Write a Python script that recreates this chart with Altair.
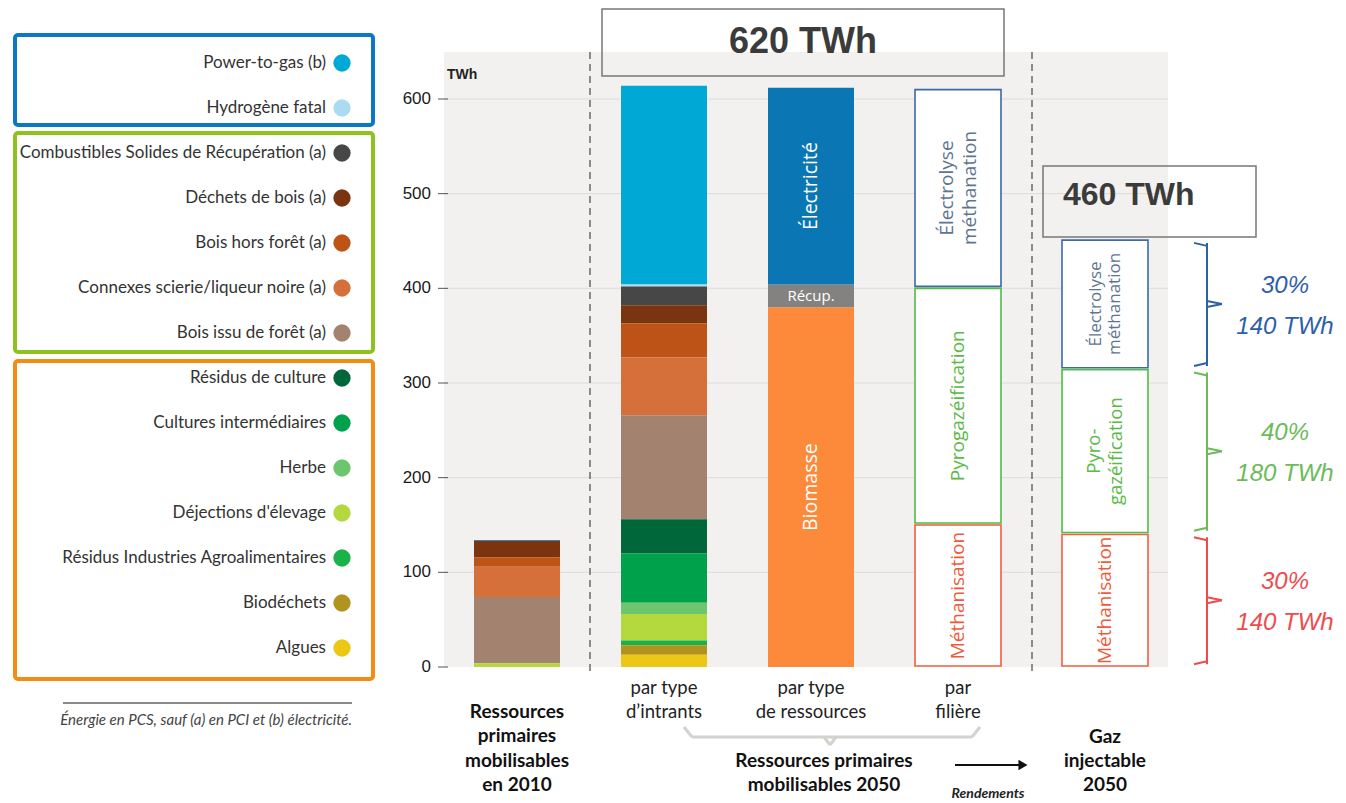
import altair as alt
import pandas as pd

# ---------------- data ----------------
legend_cats = [
    "Power-to-gas (b)", "Hydrogène fatal", "Combustibles Solides de Récupération (a)",
    "Déchets de bois (a)", "Bois hors forêt (a)", "Connexes scierie/liqueur noire (a)",
    "Bois issu de forêt (a)", "Résidus de culture", "Cultures intermédiaires", "Herbe",
    "Déjections d'élevage", "Résidus Industries Agroalimentaires", "Biodéchets", "Algues",
]
legend_colors = [
    "#00a8d6", "#a9dcf2", "#474747", "#7b3410", "#bd5316", "#d5703a", "#a3836f",
    "#00673a", "#00a14b", "#6dc56e", "#b4d93e", "#19b34a", "#b3931f", "#ecc714",
]
values_2010 = [0, 0, 2, 16, 10, 32, 70, 0, 0, 0, 4, 0, 0, 0]
values_2050 = [210, 2, 20, 19, 36, 61, 110, 36, 52, 12, 28, 5, 10, 13]

column_ids = ["2010", "intrants", "ressources", "filiere", "gaz"]

res_names = ["Biomasse", "Récup.", "Électricité"]
res_values = [380, 24, 208]
res_colors = ["#fd8a3b", "#838281", "#0a77b4"]

fil_values = [151, 250, 210]
gaz_values = [141, 174, 137]
fil_strokes = ["#f0603f", "#4fbf42", "#3b6aa5"]
fil_text_colors = ["#ee5b3c", "#5cb948", "#5d7592"]
fil_labels = ["Méthanisation", "Pyrogazéification", "Électrolyse\nméthanation"]
gaz_labels = ["Méthanisation", "Pyro-\ngazéification", "Électrolyse\nméthanation"]
gaz_shares = ["30%\n140 TWh", "40%\n180 TWh", "30%\n140 TWh"]
share_colors = ["#f04b4b", "#6cbb58", "#2e60aa"]

y_ticks = [0, 100, 200, 300, 400, 500, 600]

bottom_small_cols = ["intrants", "ressources", "filiere"]
bottom_small_labels = ["par type\nd\u2019intrants", "par type\nde ressources", "par\nfilière"]

# ---------------- frames ----------------
n = len(legend_cats)
rows = []
for col, vals in (("2010", values_2010), ("intrants", values_2050)):
    for i, (c, v) in enumerate(zip(legend_cats, vals)):
        if v > 0:
            rows.append({"col": col, "cat": c, "value": v, "order": n - i})
df_int = pd.DataFrame(rows)


def stacked(vals):
    out, base = [], 0
    for v in vals:
        out.append((base, base + v, base + v / 2))
        base += v
    return out


res_rows = []
for name, (lo, hi, mid), hx in zip(res_names, stacked(res_values), res_colors):
    res_rows.append({"col": "ressources", "name": name, "lo": lo, "hi": hi, "mid": mid,
                     "hex": hx, "tcolor": "white"})
df_res = pd.DataFrame(res_rows)

fil_rows = []
for col, vals, labs, fs, lhs in (("filiere", fil_values, fil_labels, [19, 19, 19], [0, 0, 23]),
                                 ("gaz", gaz_values, gaz_labels, [19, 18.5, 17], [0, 22, 19])):
    for (lo, hi, mid), lab, sc, tc, f, lh in zip(stacked(vals), labs, fil_strokes, fil_text_colors, fs, lhs):
        fil_rows.append({"col": col, "lo": lo, "hi": hi, "mid": mid, "hex": sc,
                         "label": lab, "tcolor": tc, "fs": f, "lh": lh})
df_fil = pd.DataFrame(fil_rows)

br_rows = []
for (lo, hi, mid), sh, c in zip(stacked(gaz_values), gaz_shares, share_colors):
    br_rows.append({"blo": lo + 3, "bhi": hi - 4, "mid": mid, "share": sh, "bc": c})
df_br = pd.DataFrame(br_rows)

df_ticks = pd.DataFrame({"t": y_ticks})
df_legend = pd.DataFrame({"cat": legend_cats, "row": list(range(n))})
one = pd.DataFrame({"k": [0]})

# ---------------- helpers ----------------
W_L, W_M, H = 372, 958, 786


def mx(px):
    return px - 380


def my(py):
    return py - 8


def lx(px):
    return px - 8


def box(x1, x2, y1, y2, **kw):
    return alt.Chart(one).mark_rect(**kw).encode(
        x=alt.value(x1), x2=alt.value(x2), y=alt.value(y1), y2=alt.value(y2))


def seg(x1, x2, y1, y2, **kw):
    return alt.Chart(one).mark_rule(**kw).encode(
        x=alt.value(x1), x2=alt.value(x2), y=alt.value(y1), y2=alt.value(y2))


def label(s, x, y, **kw):
    return alt.Chart(one).mark_text(text=s, lineBreak="\n", **kw).encode(
        x=alt.value(x), y=alt.value(y))


# ---------------- legend panel ----------------
row_scale = alt.Scale(domain=[0, 13], range=[lx(63), lx(648)], nice=False, zero=False)
color_scale = alt.Scale(domain=legend_cats, range=legend_colors)

leg_layers = [
    box(lx(15), lx(373), lx(35), lx(125), fillOpacity=0, stroke="#0a78c2", strokeWidth=4, cornerRadius=3),
    box(lx(15), lx(373), lx(133), lx(352), fillOpacity=0, stroke="#8dc21f", strokeWidth=4, cornerRadius=3),
    box(lx(15), lx(373), lx(361), lx(679), fillOpacity=0, stroke="#f28c12", strokeWidth=4, cornerRadius=3),
    alt.Chart(df_legend).mark_circle(size=300, opacity=1).encode(
        x=alt.value(lx(342)),
        y=alt.Y("row:Q", scale=row_scale, axis=None),
        color=alt.Color("cat:N", scale=color_scale, legend=None)),
    alt.Chart(df_legend).mark_text(align="right", baseline="middle", font="Lato", fontSize=17,
                                   color="#333").encode(
        x=alt.value(lx(326)),
        y=alt.Y("row:Q", scale=row_scale, axis=None),
        text="cat:N"),
    seg(lx(63), lx(352), lx(703), lx(703), color="#8a8a8a", strokeWidth=2),
    label("Énergie en PCS, sauf (a) en PCI et (b) électricité.", lx(352), lx(720),
          align="right", baseline="middle", font="Lato", fontSize=15, fontStyle="italic",
          color="#444"),
]
legend_chart = alt.layer(*leg_layers).properties(width=W_L, height=H)

# ---------------- main panel ----------------
yscale = alt.Scale(domain=[0, 600], range=[my(667), my(99)], nice=False, zero=False)
xscale = alt.Scale(domain=column_ids, range=[mx(474), mx(1148)], paddingInner=0.415, paddingOuter=0)
X = alt.X("col:N", scale=xscale, axis=None)


def Y(field):
    return alt.Y(field, scale=yscale, axis=None)


layers = [
    box(mx(444), mx(1168), my(52), my(667), color="#f2f1ef"),
    alt.Chart(df_ticks[df_ticks.t > 0]).mark_rule(color="#dddcd9", strokeWidth=1).encode(
        x=alt.value(mx(444)), x2=alt.value(mx(1168)), y=Y("t:Q")),
    alt.Chart(df_ticks).mark_rule(color="#555", strokeWidth=1).encode(
        x=alt.value(mx(438)), x2=alt.value(mx(448)), y=Y("t:Q")),
    alt.Chart(df_ticks).mark_text(align="right", baseline="middle", font="Liberation Sans",
                                  fontSize=17, color="#1a1a1a").encode(
        x=alt.value(mx(431)), y=Y("t:Q"), text="t:Q"),
    label("TWh", mx(447), my(75), align="left", baseline="middle", font="Liberation Sans",
          fontSize=14, fontWeight="bold", color="#222"),
    seg(mx(590), mx(590), my(52), my(672), color="#555", strokeWidth=1.3, strokeDash=[7, 5]),
    seg(mx(1032), mx(1032), my(52), my(672), color="#555", strokeWidth=1.3, strokeDash=[7, 5]),
    # stacked bars by input
    alt.Chart(df_int).mark_bar().encode(
        x=X, y=alt.Y("value:Q", stack="zero", scale=yscale, axis=None),
        color=alt.Color("cat:N", scale=color_scale, legend=None),
        order=alt.Order("order:Q", sort="ascending")),
    # by resource type
    alt.Chart(df_res).mark_bar().encode(
        x=X, y=Y("lo:Q"), y2="hi:Q", fill=alt.Fill("hex:N", scale=None)),
    alt.Chart(df_res[df_res.name != "Récup."]).mark_text(
        angle=270, align="center", baseline="middle", font="Open Sans", fontSize=19.5).encode(
        x=X, y=Y("mid:Q"), text="name:N", fill=alt.Fill("tcolor:N", scale=None)),
    alt.Chart(df_res[df_res.name == "Récup."]).mark_text(
        align="center", baseline="middle", font="Open Sans", fontSize=15).encode(
        x=X, y=Y("mid:Q"), text="name:N", fill=alt.Fill("tcolor:N", scale=None)),
    # by sector and injectable gas
    alt.Chart(df_fil).mark_bar(fill="white", strokeWidth=1.6, yOffset=-1, y2Offset=1).encode(
        x=X, y=Y("lo:Q"), y2="hi:Q", stroke=alt.Stroke("hex:N", scale=None)),
    alt.Chart(df_fil[df_fil.lh == 0]).mark_text(angle=270, align="center", baseline="middle",
                                                font="Open Sans").encode(
        x=X, y=Y("mid:Q"), text="label:N", fill=alt.Fill("tcolor:N", scale=None),
        size=alt.Size("fs:Q", scale=None)),
]
# two-line labels inside the boxes: centre the block across the bar
for _, r in df_fil[df_fil.lh > 0].iterrows():
    sub = df_fil[(df_fil.col == r.col) & (df_fil.label == r.label)]
    layers.append(
        alt.Chart(sub).mark_text(angle=270, align="center", baseline="middle", font="Open Sans",
                                 fontSize=float(r.fs), lineBreak="\n", lineHeight=float(r.lh),
                                 dy=-float(r.lh) / 2).encode(
            x=X, y=Y("mid:Q"), text="label:N", fill=alt.Fill("tcolor:N", scale=None)))

layers += [
    # braces
    alt.Chart(df_br).mark_rule(strokeWidth=2).encode(
        x=alt.value(mx(1207)), y=Y("blo:Q"), y2="bhi:Q", stroke=alt.Stroke("bc:N", scale=None)),
    alt.Chart(df_br).mark_rule(strokeWidth=2, y2Offset=3).encode(
        x=alt.value(mx(1194)), x2=alt.value(mx(1207)), y=Y("bhi:Q"), y2="bhi:Q",
        stroke=alt.Stroke("bc:N", scale=None)),
    alt.Chart(df_br).mark_rule(strokeWidth=2, y2Offset=-3).encode(
        x=alt.value(mx(1194)), x2=alt.value(mx(1207)), y=Y("blo:Q"), y2="blo:Q",
        stroke=alt.Stroke("bc:N", scale=None)),
    alt.Chart(df_br).mark_rule(strokeWidth=2, yOffset=-3).encode(
        x=alt.value(mx(1207)), x2=alt.value(mx(1222)), y=Y("mid:Q"), y2="mid:Q",
        stroke=alt.Stroke("bc:N", scale=None)),
    alt.Chart(df_br).mark_rule(strokeWidth=2, yOffset=3).encode(
        x=alt.value(mx(1207)), x2=alt.value(mx(1222)), y=Y("mid:Q"), y2="mid:Q",
        stroke=alt.Stroke("bc:N", scale=None)),
    alt.Chart(df_br).mark_text(align="center", baseline="middle", font="Liberation Sans",
                               fontSize=24, fontStyle="italic", lineBreak="\n", lineHeight=41,
                               dy=-18).encode(
        x=alt.value(mx(1285)), y=Y("mid:Q"), text="share:N", fill=alt.Fill("bc:N", scale=None)),
    # total boxes
    box(mx(602), mx(1004), my(9), my(76), fillOpacity=0, stroke="#777", strokeWidth=1.5),
    label("620 TWh", mx(803), my(42), align="center", baseline="middle", font="Liberation Sans",
          fontSize=36, fontWeight="bold", color="#3b3b3b"),
    box(mx(1043), mx(1256), my(166), my(237), fillOpacity=0, stroke="#777", strokeWidth=1.5),
    label("460 TWh", mx(1063), my(195), align="left", baseline="middle", font="Liberation Sans",
          fontSize=32, fontWeight="bold", color="#3b3b3b"),
    # bottom labels (y = centre of first line)
    alt.Chart(pd.DataFrame({"col": bottom_small_cols, "lab": bottom_small_labels})).mark_text(
        align="center", baseline="middle", font="Lato", fontSize=18.5, lineBreak="\n",
        lineHeight=24, color="#222").encode(x=X, y=alt.value(my(688)), text="lab:N"),
    alt.Chart(pd.DataFrame({"col": ["2010"], "lab": ["Ressources\nprimaires\nmobilisables\nen 2010"]})).mark_text(
        align="center", baseline="middle", font="Lato", fontSize=19, fontWeight="bold",
        lineBreak="\n", lineHeight=24.3, color="#111").encode(x=X, y=alt.value(my(712)), text="lab:N"),
    alt.Chart(pd.DataFrame({"col": ["gaz"], "lab": ["Gaz\ninjectable\n2050"]})).mark_text(
        align="center", baseline="middle", font="Lato", fontSize=19, fontWeight="bold",
        lineBreak="\n", lineHeight=24, color="#111").encode(x=X, y=alt.value(my(737)), text="lab:N"),
    label("Ressources primaires\nmobilisables 2050", mx(824), my(761), align="center",
          baseline="middle", font="Lato", fontSize=19, fontWeight="bold", lineHeight=24, color="#111"),
    # gray brace under the 2050 columns
    seg(mx(692), mx(972), my(737), my(737), color="#d3d2cf", strokeWidth=3),
    seg(mx(684), mx(692), my(727), my(737), color="#d3d2cf", strokeWidth=3),
    seg(mx(972), mx(980), my(737), my(727), color="#d3d2cf", strokeWidth=3),
    seg(mx(824), mx(830), my(737), my(745), color="#d3d2cf", strokeWidth=3),
    seg(mx(830), mx(836), my(745), my(737), color="#d3d2cf", strokeWidth=3),
    # arrow
    seg(mx(955), mx(1020), my(765), my(765), color="#111", strokeWidth=2),
    alt.Chart(one).mark_point(shape="triangle-right", filled=True, size=110, color="#111", opacity=1).encode(
        x=alt.value(mx(1023)), y=alt.value(my(765))),
    label("Rendements", mx(988), my(794), align="center", baseline="middle", font="Lato",
          fontSize=14, fontStyle="italic", fontWeight="bold", color="#222"),
]
main_chart = alt.layer(*layers).properties(width=W_M, height=H)

chart = alt.hconcat(legend_chart, main_chart, spacing=0, bounds="flush", padding=0).configure_view(stroke=None)
chart.save("out.html", embed_options={"renderer": "svg", "actions": False})
